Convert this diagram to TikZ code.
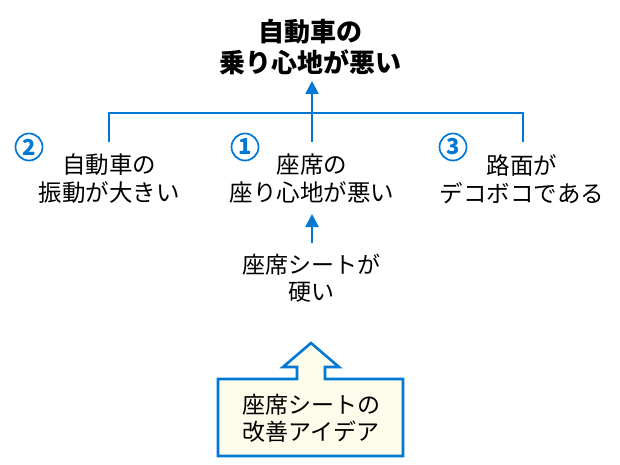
\documentclass[tikz,border=0pt]{standalone}
\usepackage{fontspec}
\setmainfont{Noto Sans CJK JP}
\usetikzlibrary{arrows.meta,positioning}
\definecolor{kblue}{RGB}{0,120,212}
\definecolor{kcream}{RGB}{253,251,234}

\begin{document}
\begin{tikzpicture}[x=1pt, y=-1pt]
\tikzset{
  cause/.style={align=center, font=\fontsize{23.5}{28}\selectfont, inner sep=0pt},
  num/.style={circle, draw=kblue, line width=1.7pt, text=kblue, minimum size=27pt,
    font=\bfseries\fontsize{22}{22}\selectfont, inner sep=0pt},
  link/.style={kblue, line width=2.6pt},
  up/.style={link, -{Triangle[width=13pt,length=13pt]}}
}
\useasboundingbox (0,0) rectangle (620,465);
% goal and the three causes
\node[cause, font=\bfseries\fontsize{26}{31}\selectfont] (title) at (310,47.5) {自動車の\\乗り心地が悪い};
\node[cause] (cause2) at (109,179) {自動車の\\振動が大きい};
\node[cause] (cause1) at (312,179) {座席の\\座り心地が悪い};
\node[cause] (cause3) at (522,179) {路面が\\デコボコである};
\node[num] (n2) at (29,147) {2};
\node[num] (n1) at (245,147) {1};
\node[num] (n3) at (453,147) {3};
\coordinate (c2) at (109,142);
\coordinate (c1) at (312,142);
\coordinate (c3) at (523,142);
\coordinate (hub) at (312,113);
\coordinate (goal) at (312,81);
\draw[link] (c2) |- (hub) -| (c3);
\draw[up] (c1) -- (goal);
% sub cause
\node[cause, font=\fontsize{23}{27}\selectfont] (seat) at (311,278.5) {座席シートが\\硬い};
\coordinate (s0) at (312,243);
\coordinate (s1) at (312,214);
\draw[up] (s0) -- (s1);
% idea box with block arrow
\draw[kblue, line width=2.6pt, fill=kcream, line join=miter]
  (218,379) -- (297,379) -- (297,367) -- (283,367) -- (311,343)
  -- (339,367) -- (325,367) -- (325,379) -- (403,379)
  -- (403,456) -- (218,456) -- cycle;
\node[cause, font=\fontsize{23}{27}\selectfont] (idea) at (311,418.5) {座席シートの\\改善アイデア};
\end{tikzpicture}
\end{document}
